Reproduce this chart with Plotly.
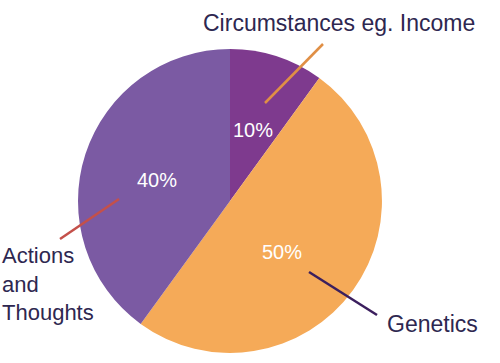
import plotly.graph_objects as go

labels = ["Circumstances eg. Income", "Genetics", "Actions and Thoughts"]
values = [10, 50, 40]
colors = ["#7E3A8E", "#F5AA58", "#7B5AA3"]
pct_text = ["10%", "50%", "40%"]

W, H = 500, 363
cx, cy, r = 230, 201, 152

def px(x):
    return x / W

def py(y):
    return 1 - y / H

fig = go.Figure(go.Pie(
    labels=labels, values=values, sort=False, direction="clockwise", rotation=0,
    marker=dict(colors=colors, line=dict(width=0)),
    textinfo="none", hoverinfo="label+percent", showlegend=False,
    domain=dict(x=[px(cx - r), px(cx + r)], y=[py(cy + r), py(cy - r)]),
))

font_name = "Liberation Sans"
txt_col = "#2E2750"

pct_pos = [(253, 130), (282, 252), (157, 180)]
annotations = []
for t, (x, y) in zip(pct_text, pct_pos):
    annotations.append(dict(x=px(x), y=py(y), xref="paper", yref="paper", text=t,
                            showarrow=False, font=dict(family=font_name, size=20, color="white"),
                            xanchor="center", yanchor="middle"))

annotations.append(dict(x=px(201), y=py(23), xref="paper", yref="paper", text=labels[0],
                        showarrow=False, font=dict(family=font_name, size=23, color=txt_col),
                        xanchor="left", yanchor="middle"))
annotations.append(dict(x=px(385), y=py(324), xref="paper", yref="paper", text=labels[1],
                        showarrow=False, font=dict(family=font_name, size=23, color=txt_col),
                        xanchor="left", yanchor="middle"))
annotations.append(dict(x=px(0), y=py(284), xref="paper", yref="paper",
                        text="Actions<br>and<br>Thoughts", align="left",
                        showarrow=False, font=dict(family=font_name, size=22, color=txt_col),
                        xanchor="left", yanchor="middle"))

lines = [
    ((323, 44), (265, 103), "#E08F45"),
    ((60, 239), (119, 199), "#C4504A"),
    ((309, 272), (377, 315), "#3B1F5E"),
]
shapes = []
for (x0, y0), (x1, y1), c in lines:
    shapes.append(dict(type="line", xref="paper", yref="paper",
                       x0=px(x0), y0=py(y0), x1=px(x1), y1=py(y1),
                       line=dict(color=c, width=2.5)))

fig.update_layout(width=W, height=H, margin=dict(l=0, r=0, t=0, b=0),
                  paper_bgcolor="white", plot_bgcolor="white",
                  annotations=annotations, shapes=shapes)

fig.write_html("out.html", config={"displayModeBar": False},
               post_script="document.body.style.margin='0';document.body.style.padding='0';")
